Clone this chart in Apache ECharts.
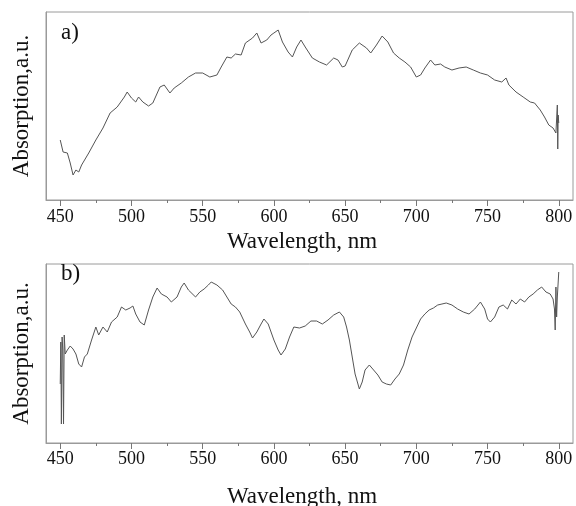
<!DOCTYPE html>
<html>
<head>
<meta charset="utf-8">
<title>Absorption spectra</title>
<script src="https://cdn.jsdelivr.net/npm/echarts@6/dist/echarts.min.js"></script>
<style>
  html, body { margin: 0; padding: 0; background: #fff; }
  #chart { width: 576px; height: 506px; }
</style>
</head>
<body>
<div id="chart"></div>
<script>
// wavelength (nm) and absorption (a.u.) read off panel a)
var wlA = [450, 452, 455, 457, 459, 461, 463, 465, 470, 475, 480, 485, 490, 495, 497, 500, 503, 505, 508, 512,
  515, 520, 523, 527, 530, 535, 540, 545, 550, 555, 560, 563, 567, 570, 573, 577, 580, 585, 588, 591,
  595, 598, 600, 603, 606, 610, 613, 616, 619, 622, 627, 632, 637, 642, 645, 648, 650, 655, 660, 665,
  668, 672, 676, 680, 684, 688, 692, 696, 700, 703, 706, 710, 713, 717, 720, 725, 730, 735, 740, 745,
  750, 755, 760, 763, 765, 770, 775, 780, 783, 787, 790, 793, 796, 798, 799, 799.3, 799.6, 800]
var absA = [60, 48, 47, 37, 25, 30, 28, 35, 47, 60, 72, 87, 93, 103, 108, 102, 98, 103, 98, 94,
  97, 113, 115, 107, 112, 117, 123, 127, 127, 123, 125, 133, 143, 142, 146, 145, 157, 162, 167, 157,
  160, 165, 167, 170, 158, 148, 143, 153, 160, 153, 142, 138, 135, 142, 140, 133, 134, 150, 157, 152,
  147, 155, 164, 158, 147, 142, 138, 133, 123, 125, 132, 140, 135, 136, 133, 130, 132, 133, 130, 127,
  125, 120, 118, 122, 115, 108, 103, 98, 97, 90, 83, 75, 72, 67, 95, 51, 85, 77]

// panel b)
var wlB = [450, 450.4, 450.8, 451.3, 451.8, 452.3, 452.8, 453.5, 455, 457, 459, 461, 463, 465, 467, 469, 472, 475, 477, 480,
  483, 486, 490, 493, 496, 499, 501, 503, 506, 509, 512, 515, 518, 521, 525, 528, 532, 535, 537, 540,
  545, 548, 551, 554, 556, 560, 564, 567, 570, 573, 576, 580, 583, 585, 588, 591, 593, 596, 600, 603,
  605, 608, 611, 614, 618, 622, 626, 630, 634, 638, 642, 646, 649, 651, 653, 655, 657, 659, 660, 662,
  664, 667, 670, 673, 676, 679, 682, 685, 688, 691, 694, 697, 700, 703, 706, 709, 712, 715, 718, 721,
  725, 729, 733, 737, 741, 745, 748, 750, 752, 755, 758, 761, 764, 767, 770, 773, 776, 779, 782, 785,
  788, 791, 794, 796, 797, 797.5, 798, 798.5, 799, 800]
var absB = [59, 101, 19, 106, 93, 19, 108, 89, 93, 97, 94, 89, 79, 76, 86, 89, 103, 116, 108, 116,
  111, 121, 126, 136, 133, 135, 137, 129, 121, 118, 133, 146, 155, 149, 146, 141, 146, 156, 160, 153,
  146, 151, 154, 158, 161, 158, 153, 146, 139, 136, 131, 119, 111, 105, 111, 119, 124, 119, 103, 93,
  88, 94, 106, 116, 115, 117, 122, 122, 119, 123, 128, 131, 126, 116, 103, 86, 69, 59, 54, 61,
  73, 78, 73, 68, 61, 59, 58, 64, 69, 78, 93, 106, 115, 124, 129, 133, 135, 138, 139, 140,
  138, 134, 131, 129, 134, 141, 134, 124, 121, 126, 136, 138, 134, 143, 139, 144, 141, 146, 149, 153,
  156, 151, 149, 144, 134, 113, 156, 126, 146, 171]

var majorTicks = [450, 500, 550, 600, 650, 700, 750, 800]
var minorTicks = [475, 525, 575, 625, 675, 725, 775]
var panelLabels = ['a)', 'b)']
var xName = 'Wavelength, nm'
var yName = 'Absorption,a.u.'

var font = 'Liberation Serif'
var frame = '#9a9a9a'

function pairs(xs, ys) {
  return xs.map(function (x, i) { return [x, ys[i]] })
}

function mainX(gridIndex, labelMargin, nameGap) {
  return {
    type: 'value', gridIndex: gridIndex, min: 440, max: 810,
    name: xName, nameLocation: 'middle', nameGap: nameGap,
    nameTextStyle: { fontFamily: font, fontSize: 23, color: '#111', padding: [0, 15, 0, 0] },
    axisLine: { show: true, lineStyle: { color: frame, width: 1 } },
    axisTick: { show: true, inside: false, length: 6, customValues: majorTicks, lineStyle: { color: '#777' } },
    axisLabel: { show: true, customValues: majorTicks, margin: labelMargin, fontFamily: font, fontSize: 18, color: '#111' },
    splitLine: { show: false }
  }
}

function minorX(gridIndex) {
  return {
    type: 'value', gridIndex: gridIndex, min: 440, max: 810, position: 'bottom',
    axisLine: { show: false },
    axisTick: { show: true, inside: false, length: 3, customValues: minorTicks, lineStyle: { color: '#777' } },
    axisLabel: { show: false },
    splitLine: { show: false }
  }
}

function yAx(gridIndex, max) {
  return {
    type: 'value', gridIndex: gridIndex, min: 0, max: max,
    name: yName, nameLocation: 'middle', nameGap: 13, nameRotate: 90,
    nameTextStyle: { fontFamily: font, fontSize: 23, color: '#111' },
    axisLine: { show: true, lineStyle: { color: frame, width: 1 } },
    axisTick: { show: false },
    axisLabel: { show: false },
    splitLine: { show: false }
  }
}

function spectrum(xIdx, yIdx, xs, ys) {
  return {
    type: 'line', xAxisIndex: xIdx, yAxisIndex: yIdx,
    data: pairs(xs, ys),
    showSymbol: false, symbol: 'none', smooth: false,
    lineStyle: { color: '#555', width: 1 },
    silent: true
  }
}

var chart = echarts.init(document.getElementById('chart'), null, { renderer: 'canvas' })
chart.setOption({
  animation: false,
  backgroundColor: '#fff',
  title: [
    { text: panelLabels[0], left: 61, top: 21, padding: 0, textStyle: { fontFamily: font, fontSize: 23, fontWeight: 'normal', color: '#111' } },
    { text: panelLabels[1], left: 61, top: 262, padding: 0, textStyle: { fontFamily: font, fontSize: 23, fontWeight: 'normal', color: '#111' } }
  ],
  grid: [
    { left: 46, top: 12, width: 527, height: 188, show: true, borderColor: frame, borderWidth: 1, backgroundColor: 'transparent', outerBoundsMode: 'none' },
    { left: 46, top: 264, width: 527, height: 179, show: true, borderColor: frame, borderWidth: 1, backgroundColor: 'transparent', outerBoundsMode: 'none' }
  ],
  xAxis: [mainX(0, 8, 30), minorX(0), mainX(1, 7, 42), minorX(1)],
  yAxis: [yAx(0, 188), yAx(1, 179)],
  series: [
    spectrum(0, 0, wlA, absA),
    spectrum(2, 1, wlB, absB)
  ]
})
</script>
</body>
</html>
